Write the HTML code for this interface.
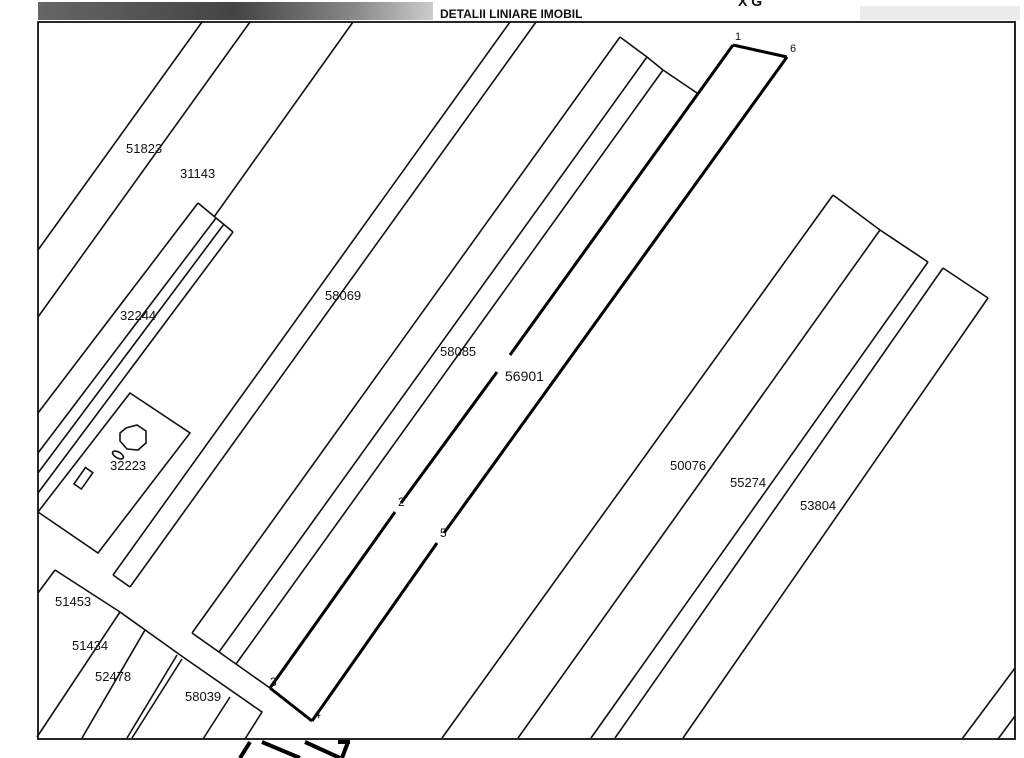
<!DOCTYPE html>
<html><head><meta charset="utf-8"><style>
html,body{margin:0;padding:0;background:#fff;}
svg{display:block;}
text{font-family:"Liberation Sans",sans-serif;fill:#111;}
</style></head><body>
<svg width="1024" height="758" viewBox="0 0 1024 758" xmlns="http://www.w3.org/2000/svg">
<defs>
<linearGradient id="hg" x1="0" x2="1" y1="0" y2="0">
<stop offset="0" stop-color="#666"/><stop offset="0.5" stop-color="#444"/><stop offset="0.8" stop-color="#888"/><stop offset="1" stop-color="#ccc"/>
</linearGradient>
</defs>
<rect x="38" y="2" width="395" height="18" fill="url(#hg)"/>
<rect x="860" y="6" width="160" height="14" fill="#ececec"/>
<text x="440" y="18" font-size="12" font-weight="bold">DETALII LINIARE IMOBIL</text>
<text x="738" y="6" font-size="14" font-weight="bold">X G</text>

<g fill="none" stroke="#111" stroke-width="1.6">
<rect x="38" y="22" width="977" height="717" stroke-width="1.8"/>
<line x1="202" y1="22" x2="38" y2="250"/>
<line x1="250" y1="22" x2="38" y2="317"/>
<line x1="353" y1="22" x2="214" y2="217"/>
<line x1="198" y1="203" x2="233" y2="232"/>
<line x1="198" y1="203" x2="38" y2="413"/>
<line x1="216" y1="218" x2="38" y2="453"/>
<line x1="224" y1="224" x2="38" y2="473"/>
<line x1="233" y1="232" x2="38" y2="493"/>
<polygon points="130,393 190,433 98,553 38,512"/>
<polygon points="126,428 137,425 146,431 146,443 138,450 127,449 120,441 120,433"/>
<rect x="79" y="468" width="9" height="20" transform="rotate(35 83 478)"/>
<ellipse cx="118" cy="455" rx="6" ry="3" transform="rotate(30 118 455)"/>
<line x1="510" y1="22" x2="113" y2="575"/>
<line x1="536" y1="22" x2="130" y2="587"/>
<line x1="113" y1="575" x2="130" y2="587"/>
<polyline points="620,37 647,57 663,70 697,93"/>
<line x1="620" y1="37" x2="192" y2="633"/>
<line x1="647" y1="57" x2="219" y2="652"/>
<line x1="663" y1="70" x2="236" y2="664"/>
<line x1="192" y1="633" x2="270" y2="688"/>
<polyline points="833,195 880,230 928,262"/>
<line x1="833" y1="195" x2="442" y2="738"/>
<line x1="880" y1="230" x2="518" y2="738"/>
<line x1="928" y1="262" x2="591" y2="738"/>
<line x1="943" y1="268" x2="988" y2="298"/>
<line x1="943" y1="268" x2="615" y2="738"/>
<line x1="988" y1="298" x2="683" y2="738"/>
<line x1="1015" y1="668" x2="962" y2="739"/>
<line x1="1015" y1="716" x2="998" y2="739"/>
<line x1="55" y1="570" x2="120" y2="612"/>
<line x1="55" y1="570" x2="38" y2="593"/>
<line x1="120" y1="612" x2="37" y2="737"/>
<line x1="120" y1="612" x2="183" y2="657"/>
<line x1="145" y1="630" x2="82" y2="738"/>
<line x1="177" y1="655" x2="127" y2="738"/>
<line x1="182" y1="659" x2="132" y2="738"/>
<polyline points="183,657 262,712 245,739"/>
<line x1="230" y1="697" x2="203" y2="739"/>
</g>
<g fill="none" stroke="#000" stroke-width="3">
<line x1="733" y1="45" x2="787" y2="57"/>
<line x1="733" y1="45" x2="510" y2="355"/>
<line x1="497" y1="372" x2="401" y2="503"/>
<line x1="395" y1="512" x2="270" y2="688"/>
<line x1="787" y1="57" x2="444" y2="533"/>
<line x1="437" y1="543" x2="312" y2="721"/>
<line x1="270" y1="688" x2="312" y2="721"/>
</g>
<g stroke="#000" stroke-width="4" fill="none">
<line x1="240" y1="758" x2="250" y2="742"/>
<line x1="262" y1="742" x2="300" y2="758"/>
<line x1="305" y1="742" x2="340" y2="758"/>
<line x1="338" y1="742" x2="350" y2="742"/>
<line x1="348" y1="742" x2="342" y2="758"/>
</g>

<g font-size="13">
<text x="126" y="153">51823</text>
<text x="180" y="178">31143</text>
<text x="120" y="320">32244</text>
<text x="325" y="300">58069</text>
<text x="440" y="356">58085</text>
<text x="505" y="381" font-size="14">56901</text>
<text x="110" y="470">32223</text>
<text x="670" y="470">50076</text>
<text x="730" y="487">55274</text>
<text x="800" y="510">53804</text>
<text x="55" y="606">51453</text>
<text x="72" y="650">51434</text>
<text x="95" y="681">52478</text>
<text x="185" y="701">58039</text>
<text x="735" y="40" font-size="11">1</text>
<text x="790" y="52" font-size="11">6</text>
<text x="398" y="506" font-size="12">2</text>
<text x="440" y="537" font-size="12">5</text>
<text x="270" y="686" font-size="12">3</text>
<text x="314" y="718" font-size="12">4</text>
</g>
</svg>
</body></html>
